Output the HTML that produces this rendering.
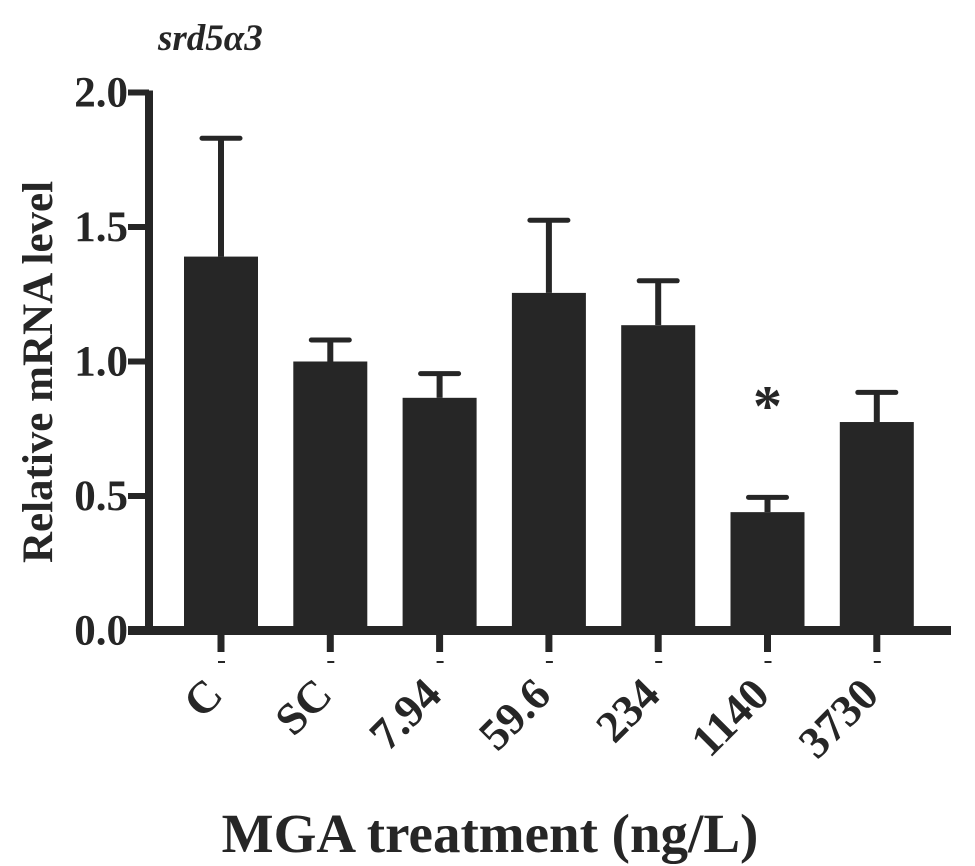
<!DOCTYPE html>
<html><head><meta charset="utf-8"><style>
body{margin:0;background:#fff;}
svg{display:block;font-family:"Liberation Serif",serif;font-weight:bold;}
</style></head><body>
<svg id="c" width="975" height="866" viewBox="0 0 975 866">
<text x="158" y="50" font-size="37" font-style="italic" fill="#262626">srd5α3</text>
<text transform="translate(52,372) rotate(-90)" text-anchor="middle" font-size="43" fill="#262626">Relative mRNA level</text>
<text x="490" y="852" text-anchor="middle" font-size="55" fill="#262626">MGA treatment (ng/L)</text>
<g id="g"></g>
</svg>
<script>
const categories=["C","SC","7.94","59.6","234","1140","3730"];
const means=[1.39,1.0,0.865,1.255,1.135,0.44,0.775];
const errors=[0.44,0.08,0.09,0.27,0.165,0.055,0.11];
const sig=["","","","","","*",""];
const yTicks=[0,0.5,1.0,1.5,2.0];
const yTickLabels=["0.0","0.5","1.0","1.5","2.0"];
const NS="http://www.w3.org/2000/svg";
const g=document.getElementById('g');
const col="#262626";
const y0=630.5,pxPer=269;
function y(v){return y0-v*pxPer;}
function x(i){return 221+i*109.3;}
function el(t,a){const e=document.createElementNS(NS,t);for(const k in a)e.setAttribute(k,a[k]);g.appendChild(e);return e;}
categories.forEach((c,i)=>{
 const cx=x(i);
 const b=el('rect',{x:cx-37,y:y(means[i]),width:74,height:y0-y(means[i]),fill:col});
 
 
 const top=y(means[i]+errors[i]);
 const e1=el('line',{x1:cx,x2:cx,y1:y(means[i]),y2:top,stroke:col,'stroke-width':6});
 
 
 const e2=el('line',{x1:cx-19,x2:cx+19,y1:top,y2:top,stroke:col,'stroke-width':5,'stroke-linecap':'round'});
 
 
 const t=el('line',{x1:cx,x2:cx,y1:634,y2:652,stroke:col,'stroke-width':7});
 
 
 const d=el('line',{x1:cx-3,x2:cx+4,y1:662,y2:662,stroke:col,'stroke-width':2});
 
 
 const l=el('text',{transform:`translate(${cx+4},${697}) rotate(-45)`,'text-anchor':'end','font-size':45,fill:col});
 l.textContent=c;
 
 
 if(sig[i]){const s=el('text',{x:cx,y:top-72,'text-anchor':'middle','font-size':58,fill:col});s.textContent=sig[i];
 
 }
});
const ax=el('line',{x1:128,x2:951,y1:y0,y2:y0,stroke:col,'stroke-width':9});


const ay=el('line',{x1:149,x2:149,y1:y(2)-2,y2:y0,stroke:col,'stroke-width':8});


yTicks.forEach((v,i)=>{
 const t=el('line',{x1:128,x2:149,y1:y(v),y2:y(v),stroke:col,'stroke-width':6});
 
 
 const l=el('text',{x:128,y:y(v)+14,'text-anchor':'end','font-size':43,fill:col});
 l.textContent=yTickLabels[i];
 
 
});
</script>
</body></html>
